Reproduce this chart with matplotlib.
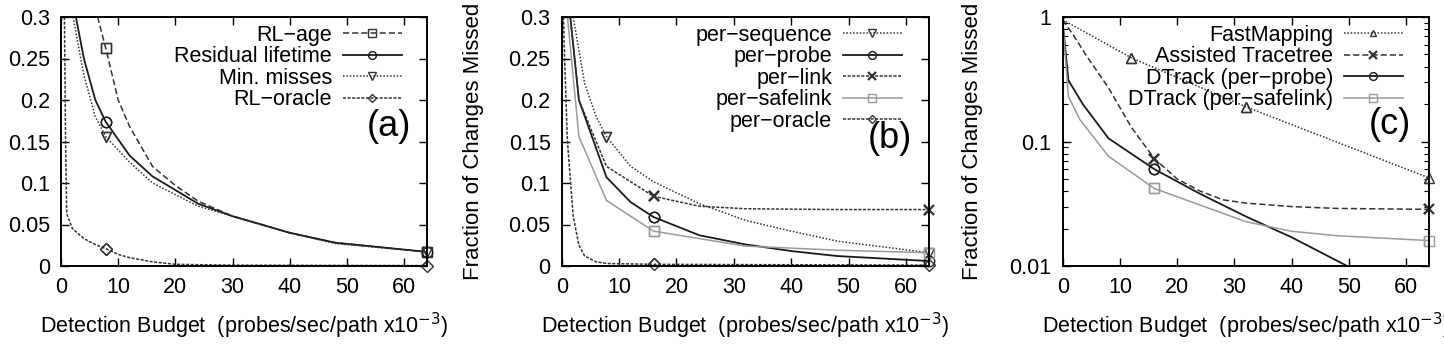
import matplotlib
matplotlib.use("Agg")
import matplotlib.pyplot as plt
from matplotlib.ticker import FixedLocator, FixedFormatter, NullFormatter, LogLocator

plt.rcParams['font.family'] = ['Liberation Sans', 'DejaVu Sans']

# ---------------- Panel (a) data ----------------
a_rlage_x = [6.4, 7.8, 10, 12, 16, 20, 24, 30, 40, 48, 64]
a_rlage_y = [0.30, 0.263, 0.20, 0.168, 0.12, 0.097, 0.078, 0.060, 0.040, 0.028, 0.017]
a_resid_x = [2.6, 4, 6, 7.8, 12, 16, 24, 30, 40, 48, 64]
a_resid_y = [0.30, 0.25, 0.20, 0.174, 0.133, 0.108, 0.075, 0.060, 0.040, 0.028, 0.017]
a_minm_x = [2.1, 4, 6, 7.8, 12, 16, 24, 30, 40, 48, 64]
a_minm_y = [0.30, 0.23, 0.18, 0.156, 0.125, 0.10, 0.072, 0.060, 0.040, 0.027, 0.017]
a_orac_x = [0.6, 0.8, 1.0, 2, 4, 6, 7.8, 10, 12, 16, 20, 30, 64]
a_orac_y = [0.30, 0.15, 0.063, 0.045, 0.033, 0.026, 0.021, 0.014, 0.010, 0.005, 0.002, 0.001, 0.0005]

# ---------------- Panel (b) data ----------------
b_seq_x = [2.0, 4, 6, 7.8, 12, 16, 24, 32, 40, 48, 64]
b_seq_y = [0.30, 0.22, 0.18, 0.156, 0.12, 0.1015, 0.075, 0.055, 0.042, 0.030, 0.016]
b_probe_x = [1.5, 3, 7.8, 12, 16, 24, 32, 40, 48, 64]
b_probe_y = [0.30, 0.20, 0.107, 0.077, 0.059, 0.037, 0.026, 0.018, 0.012, 0.006]
b_link_x = [1.5, 3, 7.8, 16, 24, 32, 48, 64]
b_link_y = [0.30, 0.20, 0.12, 0.084, 0.072, 0.069, 0.068, 0.068]
b_safe_x = [1.0, 3, 7.8, 16, 32, 48, 64]
b_safe_y = [0.30, 0.156, 0.079, 0.042, 0.024, 0.019, 0.016]
b_orac_x = [0.3, 0.5, 1, 2, 3, 4, 6, 8, 16, 64]
b_orac_y = [0.30, 0.25, 0.15, 0.06, 0.025, 0.012, 0.005, 0.003, 0.002, 0.001]

# ---------------- Panel (c) data ----------------
c_fast_x = [0, 12, 32, 64]
c_fast_y = [0.95, 0.47, 0.19, 0.051]
c_atr_x = [0, 2, 4, 8, 12, 16, 20, 24, 28, 32, 40, 48, 64]
c_atr_y = [0.95, 0.7, 0.5, 0.27, 0.13, 0.073, 0.050, 0.040, 0.034, 0.032, 0.030, 0.029, 0.0285]
c_dprobe_x = [0, 1, 3.5, 8, 16, 24, 32, 40, 49.7, 56, 64]
c_dprobe_y = [0.9, 0.31, 0.20, 0.106, 0.060, 0.038, 0.025, 0.017, 0.010, 0.007, 0.005]
c_dsafe_x = [0, 1, 3, 8, 16, 32, 40, 48, 64]
c_dsafe_y = [0.9, 0.23, 0.15, 0.076, 0.042, 0.0227, 0.019, 0.0175, 0.016]

xticks = [0, 10, 20, 30, 40, 50, 60]
lin_yticks = [0, 0.05, 0.1, 0.15, 0.2, 0.25, 0.3]
lin_ylabels = ['0', '0.05', '0.1', '0.15', '0.2', '0.25', '0.3']
log_yticks = [0.01, 0.1, 1]
log_ylabels = ['0.01', '0.1', '1']

XLABEL = 'Detection Budget  (probes/sec/path x10$^{-3}$)'
YLABEL = 'Fraction of Changes Missed'

FS = 15.5
BLACK = '#1a1a1a'
DARK = '#333333'
GRAY = '#9a9a9a'

fig = plt.figure(figsize=(14.44, 3.47), dpi=100)
W, H = 1444, 347
def ax_at(l, r):
    return fig.add_axes([l / W, (H - 266) / H, (r - l) / W, (266 - 17) / H])

axa = ax_at(61, 427)
axb = ax_at(561.7, 929)
axc = ax_at(1062.7, 1429)

def style(ax):
    ax.set_xlim(0, 64)
    ax.set_xticks(xticks)
    ax.tick_params(direction='in', top=True, right=True, length=6, width=1,
                   labelsize=FS, pad=8)
    ax.tick_params(which='minor', direction='in', top=True, right=True, length=3.5, width=0.8)
    for s in ax.spines.values():
        s.set_linewidth(1.4)
    ax.set_xlabel(XLABEL, fontsize=FS, labelpad=9)

def line(ax, x, y, label, ls, color, marker, mev, lw=1.1, ms=7.5, mew=1.0):
    ax.plot(x, y, linestyle=ls, color=color, lw=lw, marker=marker, markevery=mev,
            markersize=ms, markerfacecolor='none', markeredgecolor=color,
            markeredgewidth=mew, label=label, clip_on=True)
    # redraw markers unclipped so the ones on the right edge show fully
    xs = [x[i] for i in mev]
    ys = [y[i] for i in mev]
    ax.plot(xs, ys, linestyle='none', marker=marker, markersize=ms,
            markerfacecolor='none', markeredgecolor=color, markeredgewidth=mew,
            clip_on=False)

def legend(ax, right_px, ax_left, ax_width):
    ax.legend(loc='upper right', frameon=False, markerfirst=False, fontsize=FS,
              handlelength=2.75, handletextpad=0.5, labelspacing=0.02,
              borderaxespad=0.0, borderpad=0.0, markerscale=0.75,
              bbox_to_anchor=((right_px - ax_left) / ax_width, 1 - 8 / 249))

# ---- (a)
style(axa)
axa.set_ylim(0, 0.3)
axa.set_yticks(lin_yticks)
axa.set_yticklabels(lin_ylabels)
line(axa, a_rlage_x, a_rlage_y, 'RL\u2212age', (0, (4, 2)), DARK, 's', [1, 10])
line(axa, a_resid_x, a_resid_y, 'Residual lifetime', '-', BLACK, 'o', [3, 10], lw=1.3)
line(axa, a_minm_x, a_minm_y, 'Min. misses', (0, (1, 1.2)), DARK, 'v', [3, 10])
line(axa, a_orac_x, a_orac_y, 'RL\u2212oracle', (0, (2, 1)), DARK, 'D', [6, 12], ms=6)
legend(axa, 402, 61, 366)
axa.text((411 - 61) / 366, (266 - 127) / 249, '(a)', transform=axa.transAxes,
         ha='right', va='center', fontsize=26)

# ---- (b)
style(axb)
axb.set_ylim(0, 0.3)
axb.set_yticks(lin_yticks)
axb.set_yticklabels(lin_ylabels)
axb.set_ylabel(YLABEL, fontsize=FS + 0.5)
axb.yaxis.set_label_coords(-(561.7 - 484) / 367.3, 0.5)
line(axb, b_seq_x, b_seq_y, 'per\u2212sequence', (0, (1, 1.2)), DARK, 'v', [3, 10])
line(axb, b_probe_x, b_probe_y, 'per\u2212probe', '-', BLACK, 'o', [4, 9], lw=1.3)
line(axb, b_link_x, b_link_y, 'per\u2212link', (0, (2, 1)), DARK, 'x', [3, 7], mew=1.6)
line(axb, b_safe_x, b_safe_y, 'per\u2212safelink', '-', GRAY, 's', [3, 6])
line(axb, b_orac_x, b_orac_y, 'per\u2212oracle', (0, (2, 1)), DARK, 'D', [8, 9], ms=6)
legend(axb, 902, 561.7, 367.3)
axb.text((912 - 561.7) / 367.3, (266 - 138) / 249, '(b)', transform=axb.transAxes,
         ha='right', va='center', fontsize=26)

# ---- (c)
style(axc)
axc.set_yscale('log')
axc.set_ylim(0.01, 1)
axc.yaxis.set_major_locator(FixedLocator(log_yticks))
axc.yaxis.set_major_formatter(FixedFormatter(log_ylabels))
axc.yaxis.set_minor_locator(LogLocator(base=10, subs=range(2, 10)))
axc.yaxis.set_minor_formatter(NullFormatter())
axc.set_ylabel(YLABEL, fontsize=FS + 0.5)
axc.yaxis.set_label_coords(-(1062.7 - 983) / 366.3, 0.5)
line(axc, c_fast_x, c_fast_y, 'FastMapping', (0, (1, 1.2)), DARK, '^', [1, 2, 3], ms=6.5)
line(axc, c_atr_x, c_atr_y, 'Assisted Tracetree', (0, (4, 2)), DARK, 'x', [5, 12], mew=1.6)
line(axc, c_dprobe_x, c_dprobe_y, 'DTrack (per\u2212probe)', '-', BLACK, 'o', [4], lw=1.3)
line(axc, c_dsafe_x, c_dsafe_y, 'DTrack (per\u2212safelink)', '-', GRAY, 's', [4, 8])
legend(axc, 1403, 1062.7, 366.3)
axc.text((1411 - 1062.7) / 366.3, (266 - 125) / 249, '(c)', transform=axc.transAxes,
         ha='right', va='center', fontsize=26)

fig.savefig('out.png', dpi=100)
